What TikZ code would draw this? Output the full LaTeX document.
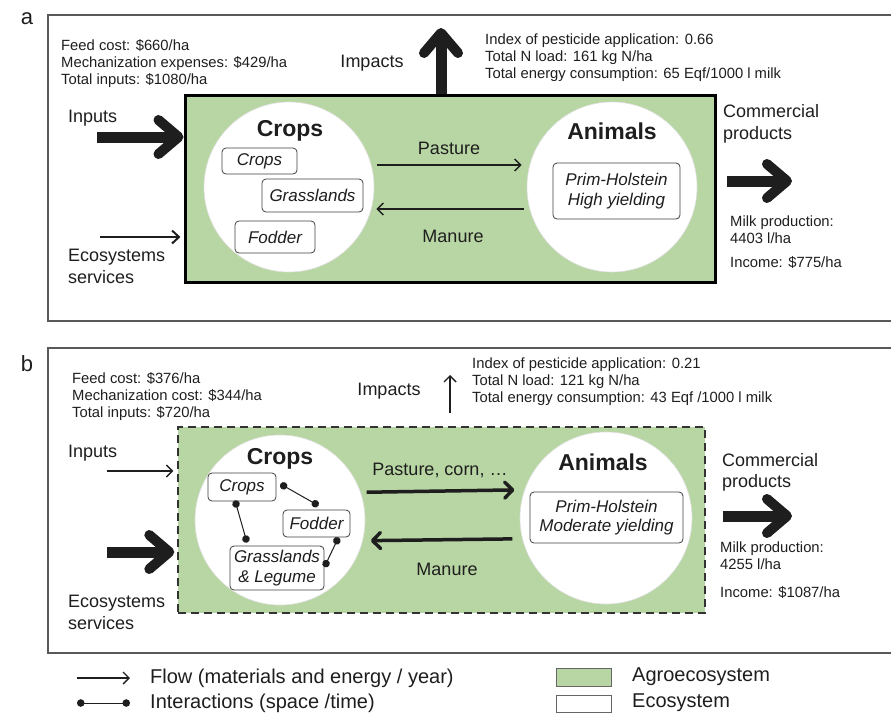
\documentclass[tikz,border=0pt]{standalone}
\usepackage{fontspec}
\setmainfont{Liberation Sans}
\usetikzlibrary{arrows.meta,positioning,calc}
\definecolor{agrogreen}{RGB}{184,214,163}
\definecolor{ink}{RGB}{30,30,30}
\tikzset{
  outerbox/.style={draw=black!65, line width=1.2pt},
  agrobox/.style={fill=agrogreen, draw=black, line width=3pt, inner sep=0pt},
  agrodash/.style={fill=agrogreen, draw=black!80, line width=1.4pt, dash pattern=on 8pt off 5pt, inner sep=0pt},
  ecocircle/.style={circle, fill=white, draw=black!12, line width=0.6pt, minimum size=170pt, inner sep=0pt},
  ecotitle/.style={font=\fontsize{23}{26}\selectfont\bfseries, text=ink},
  subbox/.style={draw=black!75, fill=white, rounded corners=4pt, line width=0.8pt,
    font=\fontsize{17}{19.5}\selectfont\itshape, text=ink, inner sep=1pt, align=center},
  lbl/.style={font=\fontsize{18}{21.5}\selectfont, text=ink, align=left, inner sep=0pt},
  info/.style={font=\fontsize{14.8}{17}\selectfont, text=ink, align=left, inner sep=0pt, anchor=west},
  legtxt/.style={font=\fontsize{20}{22}\selectfont, text=ink, inner sep=0pt, anchor=west},
  panel/.style={font=\fontsize{22}{24}\selectfont, text=ink},
  bigarrow/.style={line width=11pt, draw=ink, -{Straight Barb[length=20pt, width=34pt, line width=10pt, round]}},
  flow/.style={line width=1.4pt, draw=ink, -{Straight Barb[length=6pt, width=12pt, line width=1.4pt]}},
  thickflow/.style={line width=3.5pt, draw=ink, -{Straight Barb[length=8pt, width=16pt, line width=3.5pt, round]}},
  link/.style={line width=1pt, draw=ink, {Circle[length=7.5pt]}-{Circle[length=7.5pt]}},
}

\begin{document}
\begin{tikzpicture}[x=1pt, y=-1pt]
\useasboundingbox (0,0) rectangle (891,715);

% ---- panel a
\node[panel] (labA) at (27,19) {a};
\draw[outerbox] (48,15) rectangle (900,321);
\node[agrobox, minimum width=530pt, minimum height=187pt] (agA) at (450,188.5) {};
\node[ecocircle] (crpA) at (289,187) {};
\node[ecocircle] (aniA) at (612,187) {};
\node[ecotitle] (crpAt) at (290,131) {Crops};
\node[ecotitle] (aniAt) at (612,131) {Animals};
\node[subbox, minimum width=75pt, minimum height=26pt] (crA) at (259.5,161) {Crops};
\node[subbox, minimum width=101pt, minimum height=33pt] (glA) at (312.5,195.5) {Grasslands};
\node[subbox, minimum width=80pt, minimum height=32pt] (fdA) at (275,237) {Fodder};
\node[subbox, minimum width=127pt, minimum height=56pt] (phA) at (616.5,191) {Prim-Holstein\\High yielding};

\draw[flow] ([xshift=6pt]crpA.15) -- ([xshift=-8pt]aniA.165);
\draw[flow] ([xshift=-6pt]aniA.195) -- ([xshift=5pt]crpA.-15);
\node[lbl] (pasA) at (449,148) {Pasture};
\node[lbl] (manA) at (453,236) {Manure};

\node[info] (costA) at (61,64) {Feed cost: \$660/ha\\Mechanization expenses: \$429/ha\\Total inputs: \$1080/ha};
\node[lbl, anchor=west] (inA) at (68,118) {Inputs};
\coordinate (inAs) at (97,137);
\draw[bigarrow] (inAs) -- (inAs -| agA.west);
\coordinate (esAs) at (100,237);
\draw[line width=2.2pt, draw=ink, -{Straight Barb[length=7pt, width=13pt, line width=2pt]}] (esAs) -- ($(esAs -| agA.west)+(-3,0)$);
\node[lbl, anchor=west] (esA) at (68,266.5) {Ecosystems\\services};

\node[lbl] (impA) at (372,63) {Impacts};
\coordinate (impAe) at (441,28);
\draw[bigarrow] (impAe |- agA.north) -- (impAe);
\node[info] (indA) at (485,58) {Index of pesticide application: 0.66\\Total N load: 161 kg N/ha\\Total energy consumption: 65 Eqf/1000 l milk};

\node[lbl, anchor=west] (comA) at (723,124) {Commercial\\products};
\coordinate (comAe) at (792,181);
\draw[bigarrow] ($(agA.east |- comAe)+(10,0)$) -- (comAe);
\node[info] (milkA) at (730,230) {Milk production:\\4403 l/ha};
\node[info] (incA) at (730,263) {Income: \$775/ha};

% ---- panel b
\node[panel] (labB) at (27,364) {b};
\draw[outerbox] (48,348) rectangle (900,653);
\node[agrodash, minimum width=527pt, minimum height=186pt] (agB) at (441.5,520) {};
\node[ecocircle] (crpB) at (280,520) {};
\node[ecocircle, minimum size=172pt] (aniB) at (606,518) {};
\node[ecotitle] (crpBt) at (280,459) {Crops};
\node[ecotitle] (aniBt) at (603,462) {Animals};
\node[subbox, minimum width=68pt, minimum height=28pt] (crB) at (242,487) {Crops};
\node[subbox, minimum width=67pt, minimum height=27pt] (fdB) at (316.5,523.5) {Fodder};
\node[subbox, minimum width=94pt, minimum height=44pt] (glB) at (277,568) {Grasslands\\\& Legume};
\node[subbox, minimum width=153pt, minimum height=51pt] (phB) at (606.5,517.5) {Prim-Holstein\\Moderate yielding};

\draw[link] ([xshift=4pt,yshift=3pt]crB.east) -- ([xshift=2pt,yshift=4pt]fdB.north);
\draw[link] ([xshift=-7pt,yshift=1pt]crB.south) -- ([xshift=-30pt,yshift=3pt]glB.north);
\draw[link] ([xshift=22pt]fdB.south) -- ([yshift=1pt]glB.east);

\draw[thickflow] ([xshift=6pt]crpB.19) -- ([xshift=-10pt]aniB.161);
\draw[thickflow] ([xshift=-10pt]aniB.194) -- ([xshift=8pt]crpB.-14);
\node[lbl] (pasB) at (440,470) {Pasture, corn, \dots};
\node[lbl] (manB) at (447,569) {Manure};

\node[info] (costB) at (72,397) {Feed cost: \$376/ha\\Mechanization cost: \$344/ha\\Total inputs: \$720/ha};
\node[lbl, anchor=west] (inB) at (68,453) {Inputs};
\coordinate (inBs) at (107,471);
\draw[flow, line width=1.2pt] (inBs) -- ($(inBs -| agB.west)+(-4,0)$);
\coordinate (esBs) at (107,552);
\draw[bigarrow] (esBs) -- ($(esBs -| agB.west)+(-3,0)$);
\node[lbl, anchor=west] (esB) at (68,612.5) {Ecosystems\\services};

\node[lbl] (impB) at (389,391) {Impacts};
\coordinate (impBs) at (450,413);
\coordinate (impBe) at (450,375);
\draw[flow, line width=1.2pt] (impBs) -- (impBe);
\node[info] (indB) at (472,382) {Index of pesticide application: 0.21\\Total N load: 121 kg N/ha\\Total energy consumption: 43 Eqf /1000 l milk};

\node[lbl, anchor=west] (comB) at (722,472.5) {Commercial\\products};
\coordinate (comBe) at (792,516);
\draw[bigarrow] ($(agB.east |- comBe)+(17,0)$) -- (comBe);
\node[info] (milkB) at (720,556) {Milk production:\\4255 l/ha};
\node[info] (incB) at (720,593) {Income: \$1087/ha};

% ---- legend
\coordinate (lgF1) at (77,678);
\coordinate (lgF2) at (130,678);
\draw[flow, line width=1.2pt] (lgF1) -- (lgF2);
\node[legtxt] (lgFt) at (150,678) {Flow (materials and energy / year)};
\coordinate (lgI1) at (77,703);
\coordinate (lgI2) at (130,703);
\draw[link] (lgI1) -- (lgI2);
\node[legtxt] (lgIt) at (150,703) {Interactions (space /time)};
\draw[fill=agrogreen, draw=black!60, line width=0.8pt] (556,668) rectangle (611,686);
\node[legtxt] (lgAt) at (632,677) {Agroecosystem};
\draw[fill=white, draw=black!60, line width=0.8pt] (556,695) rectangle (611,712);
\node[legtxt] (lgEt) at (632,703) {Ecosystem};
\end{tikzpicture}
\end{document}
